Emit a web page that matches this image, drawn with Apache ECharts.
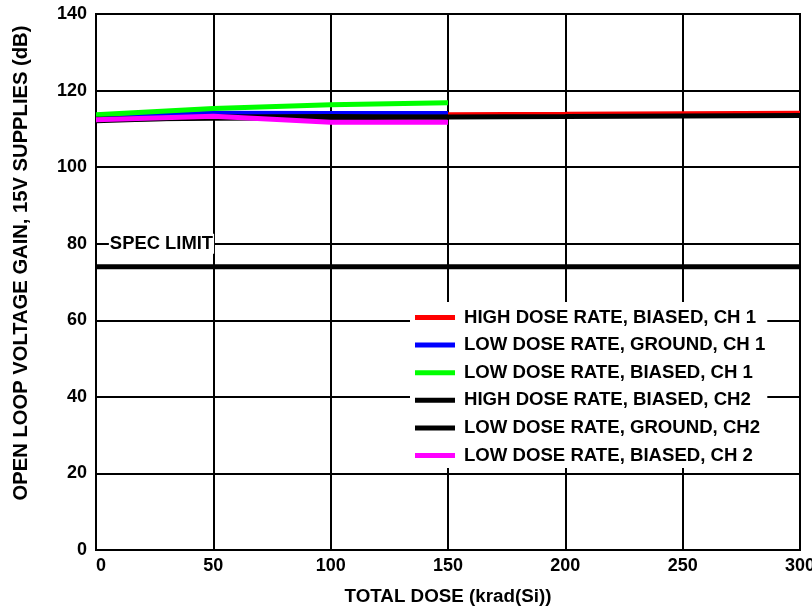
<!DOCTYPE html>
<html>
<head>
<meta charset="utf-8">
<title>Open Loop Voltage Gain vs Total Dose</title>
<script src="https://cdn.jsdelivr.net/npm/echarts@6/dist/echarts.min.js"></script>
<style>
  html, body { margin: 0; padding: 0; background: #fff; }
  #chart { width: 812px; height: 608px; }
</style>
</head>
<body>
<div id="chart"></div>
<script>
// Total dose points, krad(Si)
const doseHigh = [0, 50, 100, 150, 200, 300];
const doseLow = [0, 50, 100, 150];

// Open loop voltage gain, dB
const highBiasedCh1 = [113.0, 113.3, 113.5, 113.7, 113.8, 114.1];
const lowGroundCh1 = [113.3, 114.1, 114.0, 114.0];
const lowBiasedCh1 = [113.7, 115.3, 116.3, 116.8];
const highBiasedCh2 = [112.5, 112.8, 112.9, 113.1, 113.2, 113.5];
const lowGroundCh2 = [112.1, 113.1, 113.2, 113.0];
const lowBiasedCh2 = [112.4, 113.3, 111.7, 111.7];

// Specification limit
const specLimit = 74;
const specDose = [0, 300];
const specLabel = 'SPEC LIMIT';
const specLabelAt = [27.9, 80];

const seriesNames = [
  'HIGH DOSE RATE, BIASED, CH 1',
  'LOW DOSE RATE, GROUND, CH 1',
  'LOW DOSE RATE, BIASED, CH 1',
  'HIGH DOSE RATE, BIASED, CH2',
  'LOW DOSE RATE, GROUND, CH2',
  'LOW DOSE RATE, BIASED, CH 2'
];
const seriesColors = ['#ff0000', '#0000ff', '#00ff00', '#000000', '#000000', '#ff00ff'];
const seriesX = [doseHigh, doseLow, doseLow, doseHigh, doseLow, doseLow];
const seriesY = [highBiasedCh1, lowGroundCh1, lowBiasedCh1, highBiasedCh2, lowGroundCh2, lowBiasedCh2];

// x-axis and y-axis tick settings
const xTicks = { min: 0, max: 300, interval: 50 };
const yTicks = { min: 0, max: 140, interval: 20 };

const FONT = '"Liberation Sans", Arial, sans-serif';

const zip = (xs, ys) => xs.map((x, i) => [x, ys[i]]);

const dataSeries = seriesNames.map((name, i) => ({
  name: name,
  type: 'line',
  data: zip(seriesX[i], seriesY[i]),
  showSymbol: false,
  symbol: 'none',
  lineStyle: { color: seriesColors[i], width: 5 },
  itemStyle: { color: seriesColors[i] },
  z: 3
}));

const chart = echarts.init(document.getElementById('chart'), null, { renderer: 'canvas' });

chart.setOption({
  animation: false,
  backgroundColor: '#ffffff',
  grid: {
    left: 96, right: 12, top: 14, bottom: 58,
    containLabel: false,
    outerBoundsMode: 'none',
    show: true, borderColor: '#000', borderWidth: 2
  },
  legend: {
    data: seriesNames.map(n => ({ name: n, icon: 'rect' })),
    orient: 'vertical',
    left: 410,
    top: 302,
    padding: [6, 2, 3, 5],
    backgroundColor: '#ffffff',
    itemWidth: 40,
    itemHeight: 5,
    itemGap: 8.6,
    selectedMode: false,
    textStyle: {
      fontFamily: FONT, fontWeight: 'bold', fontSize: 18.6, color: '#000',
      padding: [0, 0, 0, 4]
    }
  },
  xAxis: {
    type: 'value',
    min: xTicks.min, max: xTicks.max, interval: xTicks.interval,
    name: 'TOTAL DOSE (krad(Si))',
    nameLocation: 'middle',
    nameGap: 37,
    nameTextStyle: { fontFamily: FONT, fontWeight: 'bold', fontSize: 18.8, color: '#000' },
    axisLine: { lineStyle: { color: '#000', width: 2 } },
    axisTick: { show: false },
    axisLabel: {
      fontFamily: FONT, fontWeight: 'bold', fontSize: 18, color: '#000', margin: 7,
      alignMinLabel: 'left'
    },
    splitLine: { show: true, lineStyle: { color: '#000', width: 2 } }
  },
  yAxis: {
    type: 'value',
    min: yTicks.min, max: yTicks.max, interval: yTicks.interval,
    name: 'OPEN LOOP VOLTAGE GAIN, 15V SUPPLIES (dB)',
    nameLocation: 'middle',
    nameGap: 65,
    nameTextStyle: {
      fontFamily: FONT, fontWeight: 'bold', fontSize: 20.2, color: '#000',
      padding: [0, 0, 0, 38]
    },
    axisLine: { lineStyle: { color: '#000', width: 2 } },
    axisTick: { show: false },
    axisLabel: { fontFamily: FONT, fontWeight: 'bold', fontSize: 18, color: '#000', margin: 9 },
    splitLine: { show: true, lineStyle: { color: '#000', width: 2 } }
  },
  series: [
    {
      name: 'spec',
      type: 'line',
      data: specDose.map(d => [d, specLimit]),
      symbol: 'none',
      lineStyle: { color: '#000', width: 5 },
      z: 2
    },
    {
      name: 'specLabel',
      type: 'scatter',
      data: [specLabelAt],
      symbolSize: 0,
      itemStyle: { opacity: 1 },
      z: 4,
      label: {
        show: true,
        position: 'inside',
        formatter: specLabel,
        fontFamily: FONT, fontWeight: 'bold', fontSize: 18.4, color: '#000',
        opacity: 1,
        backgroundColor: '#fff',
        padding: [1, 1, 1, 1]
      }
    }
  ].concat(dataSeries)
});
</script>
</body>
</html>
